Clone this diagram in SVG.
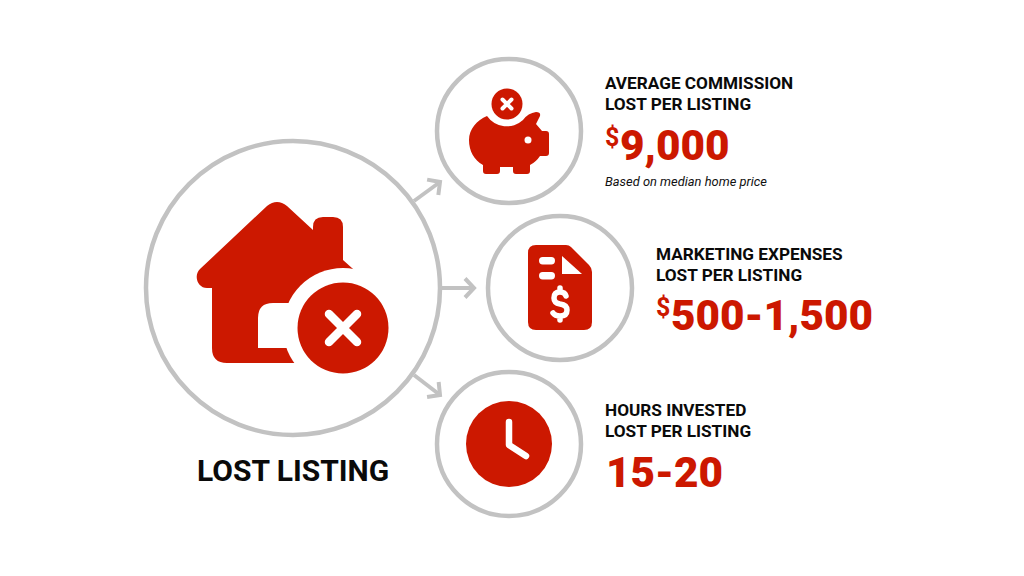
<svg xmlns="http://www.w3.org/2000/svg" width="1024" height="576" viewBox="0 0 1024 576">
<style>
.ring{fill:#fff;stroke:#c2c2c2;stroke-width:4.500}
.red{fill:#cc1800}
.wht{fill:#fff}
.ws{fill:none;stroke:#fff;stroke-linecap:round;stroke-linejoin:round}
.conn{fill:none;stroke:#c2c2c2;stroke-width:4;marker-end:url(#arrow)}
text{font-family:Roboto,"Liberation Sans",sans-serif}
.h{font-size:17.200px;font-weight:700;fill:#0a0a0a}
.big{font-size:42.300px;font-weight:900;fill:#cc1800}
.cur{font-size:25px;font-weight:700;fill:#cc1800}
.note{font-size:12.900px;font-style:italic;fill:#111}
.title{font-size:30px;font-weight:700;fill:#0a0a0a}
</style>
<defs>
<marker id="arrow" markerUnits="userSpaceOnUse" markerWidth="24" markerHeight="28" refX="12" refY="12" orient="auto">
<path d="M3 2.500L12 12L3 21.500" fill="none" stroke="#c2c2c2" stroke-width="4"/>
</marker>
</defs>
<rect width="1024" height="576" fill="#fff"/>
<g id="connectors">
<path class="conn" d="M414 201L440 182"/>
<path class="conn" d="M441 288L474 288"/>
<path class="conn" d="M414 375L440 395"/>
</g>
<g id="node-lost-listing">
<circle class="ring" cx="293" cy="288" r="147"/>
<path class="red" d="M267 206Q277 198 287 206L313 230V227Q313 217 323 217H333Q343 217 343 227V260L362 277V363H227Q212 363 212 348V288H207C198 288 193 276 200 269Z"/>
<circle class="wht" cx="343" cy="328" r="60"/>
<path class="wht" d="M258 348V318Q258 303 273 303H295V348Z"/>
<circle class="red" cx="343" cy="328" r="45.500"/>
<path class="ws" stroke-width="8.500" d="M329 314L357 342M357 314L329 342"/>
<text class="title" x="197" y="481">LOST LISTING</text>
</g>
<g id="node-commission">
<circle class="ring" cx="509" cy="131" r="72"/>
<path class="red" d="M487 116A24 24 0 0 0 523 120Q528 113 536 112Q541 112 540 116L536 124L542 131H546Q549 131 549 134V153Q549 156 546 156H540Q536 162 530 165V171Q530 174 527 174H516Q513 174 513 171V167H500V171Q500 174 497 174H486Q483 174 483 171V165C474 160 469 151 469 140C469 129 477 120 487 116Z"/>
<circle class="wht" cx="528" cy="140" r="3.500"/>
<circle class="red" cx="507" cy="104" r="15.500"/>
<path class="ws" stroke-width="4" d="M502.500 99.500L511.500 108.500M511.500 99.500L502.500 108.500"/>
<text class="h" x="605" y="89">AVERAGE COMMISSION</text>
<text class="h" x="605" y="110">LOST PER LISTING</text>
<text class="cur" x="605" y="146">$</text>
<text class="big" x="620" y="160">9,000</text>
<text class="note" x="605" y="186">Based on median home price</text>
</g>
<g id="node-marketing">
<circle class="ring" cx="560" cy="288" r="72"/>
<path class="red" d="M536 245H566Q569 245 571 247L589 265Q592 268 592 272V322Q592 330 584 330H536Q528 330 528 322V253Q528 245 536 245Z"/>
<rect class="wht" x="539" y="257" width="16" height="7.500" rx="3.700"/>
<rect class="wht" x="539" y="272" width="16" height="7.500" rx="3.700"/>
<path class="wht" d="M562 256L582 274H562Z"/>
<path class="ws" stroke-width="5.500" d="M566 296Q565 292 560 292Q554 292 554 298Q554 303 560 304Q567 305 567 310Q567 316 560 316Q555 316 553 313M560 288V292M560 316V320"/>
<text class="h" x="656" y="260">MARKETING EXPENSES</text>
<text class="h" x="656" y="281">LOST PER LISTING</text>
<text class="cur" x="656" y="316">$</text>
<text class="big" x="671" y="330">500-1,500</text>
</g>
<g id="node-hours">
<circle class="ring" cx="509" cy="444" r="72"/>
<circle class="red" cx="509" cy="444" r="43"/>
<path class="ws" stroke-width="6.500" d="M509 422V445L526 456"/>
<text class="h" x="605" y="416">HOURS INVESTED</text>
<text class="h" x="605" y="437">LOST PER LISTING</text>
<text class="big" x="606" y="487">15-20</text>
</g>
</svg>
